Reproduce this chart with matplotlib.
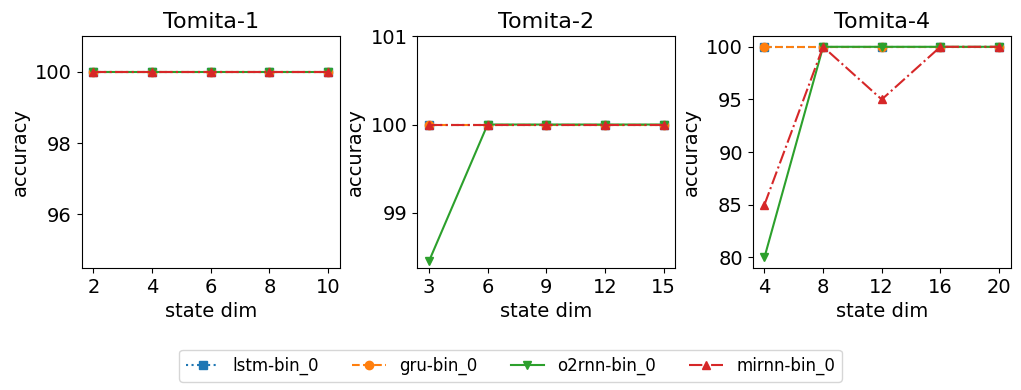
import matplotlib
matplotlib.use("Agg")
import matplotlib.pyplot as plt

# x values (state dims) per task
dims_t1 = [2, 4, 6, 8, 10]
dims_t2 = [3, 6, 9, 12, 15]
dims_t4 = [4, 8, 12, 16, 20]

# accuracy per model, Tomita-1
lstm_t1 = [100, 100, 100, 100, 100]
gru_t1 = [100, 100, 100, 100, 100]
o2rnn_t1 = [100, 100, 100, 100, 100]
mirnn_t1 = [100, 100, 100, 100, 100]

# Tomita-2
lstm_t2 = [100, 100, 100, 100, 100]
gru_t2 = [100, 100, 100, 100, 100]
o2rnn_t2 = [98.45, 100, 100, 100, 100]
mirnn_t2 = [100, 100, 100, 100, 100]

# Tomita-4
lstm_t4 = [100, 100, 100, 100, 100]
gru_t4 = [100, 100, 100, 100, 100]
o2rnn_t4 = [80, 100, 100, 100, 100]
mirnn_t4 = [85, 100, 95, 100, 100]

titles = ['Tomita-1', 'Tomita-2', 'Tomita-4']
model_names = ['lstm-bin_0', 'gru-bin_0', 'o2rnn-bin_0', 'mirnn-bin_0']
styles = [(':', 's', 'tab:blue'), ('--', 'o', 'tab:orange'),
          ('-', 'v', 'tab:green'), ('-.', '^', 'tab:red')]

panels = [
    (dims_t1, [lstm_t1, gru_t1, o2rnn_t1, mirnn_t1]),
    (dims_t2, [lstm_t2, gru_t2, o2rnn_t2, mirnn_t2]),
    (dims_t4, [lstm_t4, gru_t4, o2rnn_t4, mirnn_t4]),
]

fig, axes = plt.subplots(1, 3, figsize=(10.21, 3.9), dpi=100)
fig.subplots_adjust(left=0.08, right=0.99, top=0.907, bottom=0.313, wspace=0.3)

for ax, title, (dims, series) in zip(axes, titles, panels):
    for name, vals, (ls, mk, col) in zip(model_names, series, styles):
        ax.plot(dims, vals, linestyle=ls, marker=mk, color=col, label=name)
    ax.set_title(title, fontsize=16)
    ax.set_xlabel('state dim', fontsize=14)
    ax.set_ylabel('accuracy', fontsize=14)
    ax.set_xticks(dims)
    ax.tick_params(labelsize=14)

axes[0].set_ylim(94.5, 101)
axes[0].set_yticks([96, 98, 100])
axes[1].set_ylim(98.375, 101)
axes[1].set_yticks([99, 100, 101])
axes[2].set_yticks([80, 85, 90, 95, 100])

handles, labels = axes[0].get_legend_handles_labels()
fig.legend(handles, labels, loc='center', ncol=4, fontsize=12,
           bbox_to_anchor=(0.5, 0.062), columnspacing=2.0)

plt.savefig('out.png')
